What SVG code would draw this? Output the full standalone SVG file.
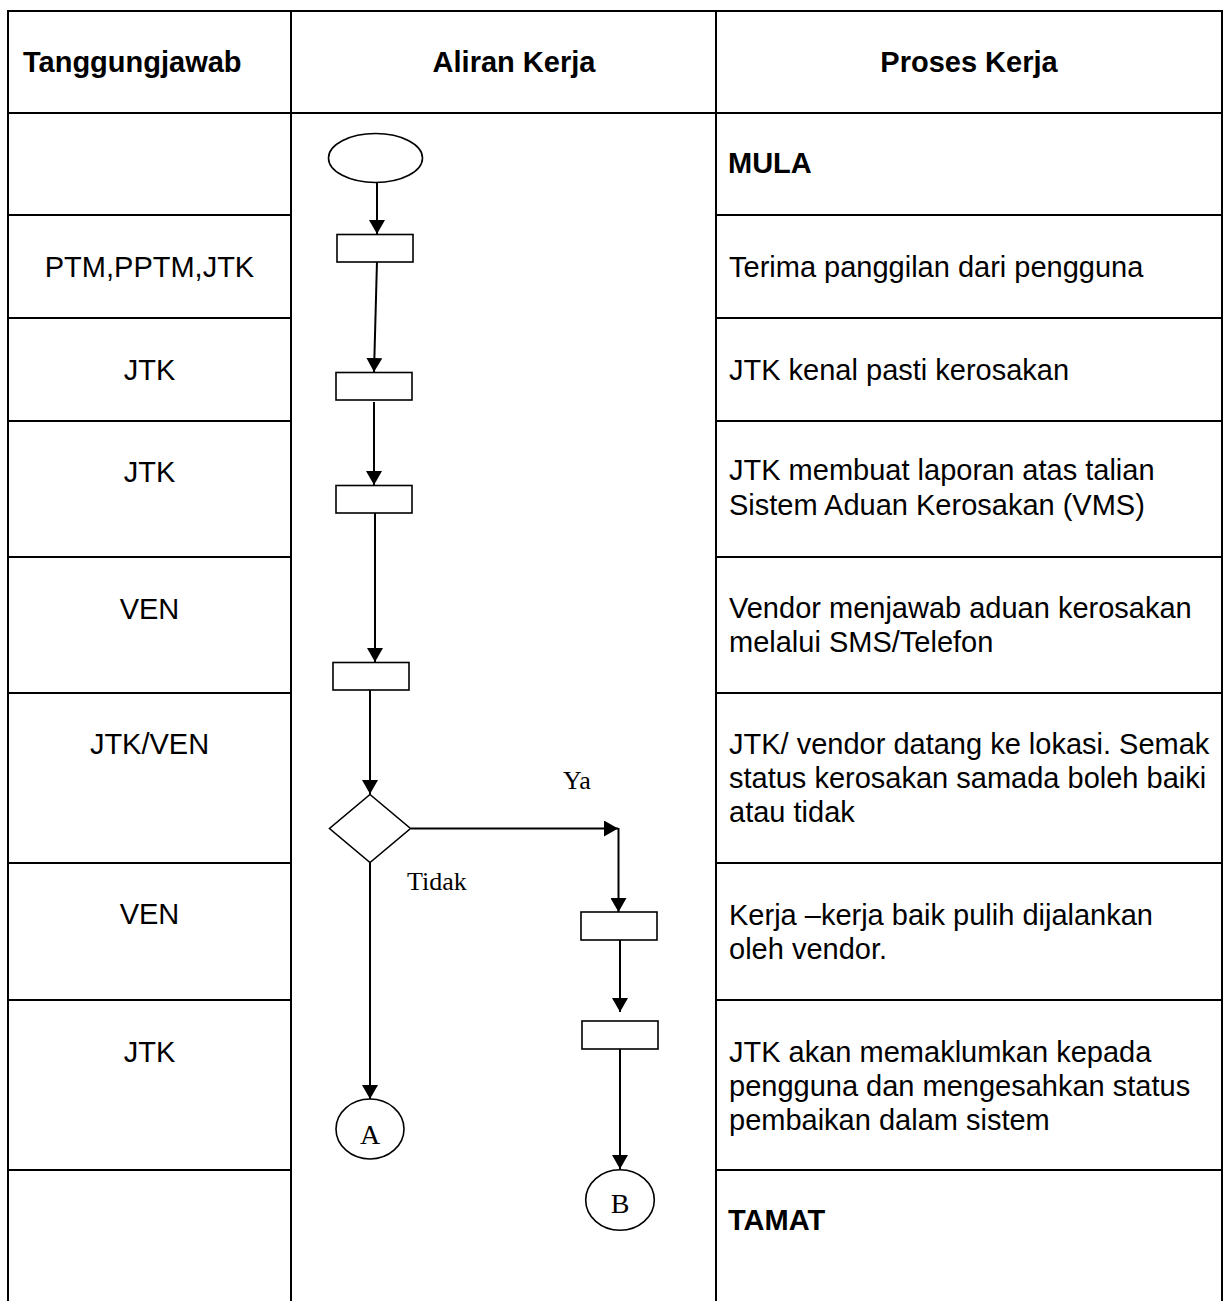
<svg xmlns="http://www.w3.org/2000/svg" width="1232" height="1301" viewBox="0 0 1232 1301">
<style>
.grid{stroke:#000;stroke-width:2;fill:none}
.shape{stroke:#000;stroke-width:1.6;fill:#fff}
.conn{stroke:#000;stroke-width:2;fill:none}
.t{font-family:"Liberation Sans",Arial,sans-serif;font-size:29px;fill:#000}
.b{font-weight:bold}
.c{text-anchor:middle}
.s{font-family:"Liberation Serif","Times New Roman",serif;font-size:26px;fill:#000}
.sc{font-family:"Liberation Serif","Times New Roman",serif;font-size:28px;fill:#000;text-anchor:middle}
</style>
<defs>
<marker id="arr" markerUnits="userSpaceOnUse" markerWidth="16" markerHeight="16" refX="14" refY="8" orient="auto" viewBox="0 0 16 16">
<path d="M0,0 L14,8 L0,16 z" fill="#000"/>
</marker>
</defs>
<rect width="1232" height="1301" fill="#fff"/>
<g id="table" class="grid">
<line x1="8" y1="11" x2="1222" y2="11"/>
<line x1="8" y1="113" x2="1222" y2="113"/>
<line x1="8" y1="10" x2="8" y2="1301"/>
<line x1="291" y1="10" x2="291" y2="1301"/>
<line x1="716" y1="10" x2="716" y2="1301"/>
<line x1="1222" y1="10" x2="1222" y2="1301"/>
<path d="M8 215H291M716 215H1222M8 318H291M716 318H1222M8 421H291M716 421H1222M8 557H291M716 557H1222M8 693H291M716 693H1222M8 863H291M716 863H1222M8 1000H291M716 1000H1222M8 1170H291M716 1170H1222"/>
</g>
<g id="headers">
<text class="t b" x="23" y="72">Tanggungjawab</text>
<text class="t b c" x="514" y="72">Aliran Kerja</text>
<text class="t b c" x="969" y="72">Proses Kerja</text>
</g>
<g id="responsibility" class="t c">
<text x="149.5" y="277">PTM,PPTM,JTK</text>
<text x="149.5" y="380">JTK</text>
<text x="149.5" y="482">JTK</text>
<text x="149.5" y="619">VEN</text>
<text x="149.5" y="754">JTK/VEN</text>
<text x="149.5" y="924">VEN</text>
<text x="149.5" y="1062">JTK</text>
</g>
<g id="process" class="t">
<text class="b" x="728" y="173">MULA</text>
<text x="729" y="277">Terima panggilan dari pengguna</text>
<text x="729" y="380">JTK kenal pasti kerosakan</text>
<text x="729" y="480">JTK membuat laporan atas talian</text>
<text x="729" y="515">Sistem Aduan Kerosakan (VMS)</text>
<text x="729" y="618">Vendor menjawab aduan kerosakan</text>
<text x="729" y="652">melalui SMS/Telefon</text>
<text x="729" y="754">JTK/ vendor datang ke lokasi. Semak</text>
<text x="729" y="788">status kerosakan samada boleh baiki</text>
<text x="729" y="822">atau tidak</text>
<text x="729" y="925">Kerja –kerja baik pulih dijalankan</text>
<text x="729" y="959">oleh vendor.</text>
<text x="729" y="1062">JTK akan memaklumkan kepada</text>
<text x="729" y="1096">pengguna dan mengesahkan status</text>
<text x="729" y="1130">pembaikan dalam sistem</text>
<text class="b" x="728" y="1230">TAMAT</text>
</g>
<g id="connectors" class="conn">
<line x1="377" y1="181" x2="377" y2="234" marker-end="url(#arr)"/>
<line x1="377" y1="261" x2="374" y2="372" marker-end="url(#arr)"/>
<line x1="374" y1="402" x2="374" y2="485" marker-end="url(#arr)"/>
<line x1="375" y1="513" x2="375" y2="662" marker-end="url(#arr)"/>
<line x1="370" y1="690" x2="370" y2="794" marker-end="url(#arr)"/>
<line x1="411" y1="828.5" x2="618" y2="828.5" marker-end="url(#arr)"/>
<line x1="618.5" y1="828" x2="618.5" y2="912" marker-end="url(#arr)"/>
<line x1="620" y1="940" x2="620" y2="1012" marker-end="url(#arr)"/>
<line x1="620" y1="1049" x2="620" y2="1169" marker-end="url(#arr)"/>
<line x1="370" y1="862" x2="370" y2="1099" marker-end="url(#arr)"/>
</g>
<g id="n-start"><ellipse class="shape" cx="375.5" cy="158" rx="47" ry="24.5"/></g>
<g id="n-terima"><rect class="shape" x="337" y="234.5" width="76" height="27.5"/></g>
<g id="n-kenal"><rect class="shape" x="336" y="372.5" width="76" height="27.5"/></g>
<g id="n-laporan"><rect class="shape" x="336" y="485.5" width="76" height="27.5"/></g>
<g id="n-jawab"><rect class="shape" x="333" y="662.5" width="76" height="27.5"/></g>
<g id="n-semak"><polygon class="shape" points="370,794.5 410.5,828.5 370,862.5 329.5,828.5"/></g>
<g id="n-baik"><rect class="shape" x="581" y="912" width="76" height="28"/></g>
<g id="n-maklum"><rect class="shape" x="582" y="1021" width="76" height="28"/></g>
<g id="n-A"><ellipse class="shape" cx="370" cy="1129" rx="34" ry="30"/><text class="sc" x="370" y="1144">A</text></g>
<g id="n-B"><ellipse class="shape" cx="620" cy="1200" rx="34.3" ry="30.3"/><text class="sc" x="620" y="1213">B</text></g>
<g id="labels">
<text class="s" x="563" y="789">Ya</text>
<text class="s" x="407" y="890">Tidak</text>
</g>
</svg>
